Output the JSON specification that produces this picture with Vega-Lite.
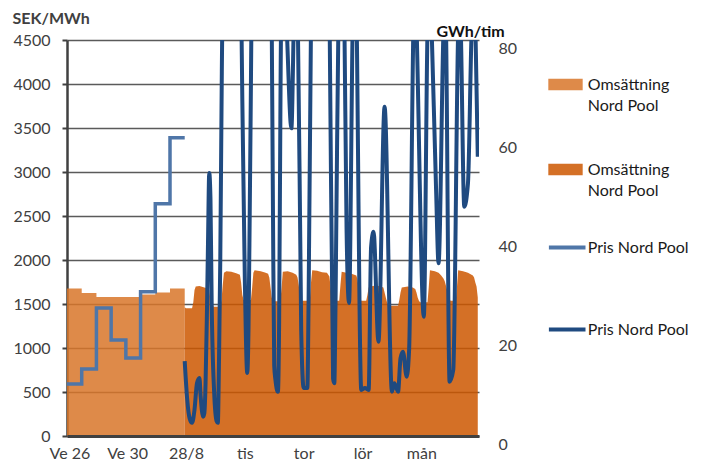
{
  "$schema": "https://vega.github.io/schema/vega-lite/v6.json",
  "width": 412,
  "height": 396,
  "autosize": {"type": "none"},
  "padding": {"left": 67, "top": 40, "right": 225, "bottom": 35},
  "background": "white",
  "config": {
    "font": "Lato",
    "view": {"stroke": null},
    "axis": {"labelFont": "Lato", "titleFont": "Lato"},
    "legend": {"labelFont": "Lato"}
  },
  "datasets": {
    "vecka": [
      {"vecka": 26, "t": -96, "t2": -84, "pris": 590, "vol": 29.8},
      {"vecka": 27, "t": -84, "t2": -72, "pris": 760, "vol": 28.9},
      {"vecka": 28, "t": -72, "t2": -60, "pris": 1455, "vol": 28.1},
      {"vecka": 29, "t": -60, "t2": -48, "pris": 1090, "vol": 28.1},
      {"vecka": 30, "t": -48, "t2": -36, "pris": 886, "vol": 28.1},
      {"vecka": 31, "t": -36, "t2": -24, "pris": 1640, "vol": 28.6},
      {"vecka": 32, "t": -24, "t2": -12, "pris": 2640, "vol": 29.0},
      {"vecka": 33, "t": -12, "t2": 0, "pris": 3390, "vol": 29.8}
    ],
    "timpris": [
      {"t":0,"pris":850},{"t":2,"pris":420},{"t":4,"pris":200},{"t":6,"pris":150},{"t":8,"pris":300},{"t":10,"pris":600},{"t":12,"pris":660},{"t":13,"pris":450},{"t":15,"pris":220},{"t":16,"pris":260},{"t":17,"pris":600},{"t":18,"pris":1300},{"t":19,"pris":2200},{"t":20,"pris":2990},{"t":21,"pris":2700},{"t":22,"pris":1500},{"t":24,"pris":500},{"t":26,"pris":170},{"t":27,"pris":150},{"t":28,"pris":900},{"t":29,"pris":2000},{"t":30,"pris":3700},{"t":31,"pris":5200},{"t":35,"pris":7000},{"t":40,"pris":7500},{"t":44,"pris":6500},{"t":46,"pris":5000},{"t":47,"pris":3800},{"t":49,"pris":1800},{"t":51,"pris":716},{"t":52,"pris":1200},{"t":53,"pris":2500},{"t":54,"pris":4000},{"t":55,"pris":5500},{"t":60,"pris":7000},{"t":66,"pris":7000},{"t":70,"pris":6000},{"t":71,"pris":4600},{"t":72,"pris":2500},{"t":73,"pris":800},{"t":74,"pris":636},{"t":76,"pris":503},{"t":77,"pris":1300},{"t":78,"pris":3600},{"t":79,"pris":5400},{"t":80,"pris":5500},{"t":82,"pris":5000},{"t":83,"pris":4700},{"t":87,"pris":3496},{"t":89,"pris":4700},{"t":90,"pris":5200},{"t":92,"pris":5000},{"t":95,"pris":1200},{"t":97,"pris":545},{"t":100,"pris":545},{"t":101,"pris":1500},{"t":103,"pris":4700},{"t":106,"pris":6500},{"t":112,"pris":7000},{"t":116,"pris":6000},{"t":118,"pris":5000},{"t":121,"pris":650},{"t":122,"pris":600},{"t":123,"pris":1500},{"t":126,"pris":5500},{"t":128,"pris":6000},{"t":130,"pris":5000},{"t":132,"pris":2340},{"t":134,"pris":1511},{"t":137,"pris":4700},{"t":139,"pris":6000},{"t":140,"pris":5000},{"t":144,"pris":523},{"t":147,"pris":545},{"t":150,"pris":523},{"t":152,"pris":2150},{"t":154,"pris":2322},{"t":158,"pris":1072},{"t":163,"pris":3742},{"t":169,"pris":504},{"t":171,"pris":600},{"t":174,"pris":504},{"t":176,"pris":886},{"t":178,"pris":958},{"t":181,"pris":674},{"t":183,"pris":977},{"t":187,"pris":5000},{"t":188,"pris":5200},{"t":189,"pris":4700},{"t":195,"pris":1356},{"t":198,"pris":4600},{"t":200,"pris":5200},{"t":201,"pris":4800},{"t":205,"pris":2800},{"t":207,"pris":1962},{"t":211,"pris":4600},{"t":212,"pris":5000},{"t":213,"pris":4700},{"t":216,"pris":617},{"t":219,"pris":750},{"t":223,"pris":4600},{"t":224,"pris":5000},{"t":225,"pris":4700},{"t":228,"pris":2606},{"t":231,"pris":2870},{"t":234,"pris":4600},{"t":236,"pris":5000},{"t":237,"pris":4700},{"t":239,"pris":3174}
    ],
    "timvol": [
      {"t":0,"vol":26.0},{"t":1,"vol":25.8},{"t":6,"vol":25.8},{"t":7,"vol":27.0},{"t":8,"vol":29.5},{"t":9,"vol":30.2},{"t":12,"vol":30.3},{"t":16,"vol":30.0},{"t":19,"vol":29.8},{"t":20,"vol":29.5},{"t":21,"vol":27.5},{"t":22,"vol":26.3},
      {"t":24,"vol":26.1},{"t":29,"vol":26.1},{"t":30,"vol":27.5},{"t":31,"vol":30.5},{"t":32,"vol":33.0},{"t":34,"vol":33.3},{"t":38,"vol":33.2},{"t":42,"vol":32.9},{"t":45,"vol":32.6},{"t":46,"vol":31.0},{"t":47,"vol":28.5},
      {"t":48,"vol":27.5},{"t":54,"vol":27.5},{"t":55,"vol":30.0},{"t":56,"vol":33.0},{"t":57,"vol":33.5},{"t":62,"vol":33.3},{"t":66,"vol":33.0},{"t":68,"vol":32.8},{"t":69,"vol":32.0},{"t":70,"vol":30.0},{"t":71,"vol":28.0},
      {"t":72,"vol":27.2},{"t":78,"vol":27.2},{"t":79,"vol":30.0},{"t":80,"vol":33.2},{"t":84,"vol":33.3},{"t":88,"vol":33.0},{"t":91,"vol":32.6},{"t":92,"vol":32.0},{"t":93,"vol":30.5},{"t":94,"vol":28.5},{"t":95,"vol":27.5},
      {"t":96,"vol":27.3},{"t":102,"vol":27.3},{"t":103,"vol":31.0},{"t":104,"vol":33.5},{"t":108,"vol":33.4},{"t":112,"vol":33.1},{"t":116,"vol":33.0},{"t":118,"vol":32.2},{"t":119,"vol":30.0},{"t":120,"vol":27.8},
      {"t":121,"vol":27.3},{"t":126,"vol":27.3},{"t":127,"vol":30.5},{"t":128,"vol":33.2},{"t":132,"vol":33.0},{"t":136,"vol":32.8},{"t":140,"vol":32.4},{"t":141,"vol":31.5},{"t":142,"vol":29.5},{"t":143,"vol":28.0},
      {"t":144,"vol":27.3},{"t":148,"vol":27.3},{"t":149,"vol":28.5},{"t":150,"vol":30.0},{"t":151,"vol":30.2},{"t":156,"vol":30.4},{"t":160,"vol":30.2},{"t":162,"vol":30.0},{"t":163,"vol":29.0},{"t":164,"vol":28.0},{"t":165,"vol":27.0},{"t":166,"vol":26.4},
      {"t":168,"vol":26.3},{"t":174,"vol":26.3},{"t":175,"vol":27.5},{"t":176,"vol":29.0},{"t":177,"vol":30.0},{"t":182,"vol":30.2},{"t":186,"vol":30.0},{"t":188,"vol":29.7},{"t":189,"vol":29.0},{"t":190,"vol":28.0},{"t":191,"vol":27.3},
      {"t":192,"vol":27.0},{"t":198,"vol":27.0},{"t":199,"vol":30.0},{"t":200,"vol":33.5},{"t":204,"vol":33.3},{"t":207,"vol":33.0},{"t":209,"vol":32.5},{"t":211,"vol":31.8},{"t":212,"vol":31.3},{"t":214,"vol":29.5},{"t":215,"vol":28.0},
      {"t":216,"vol":27.5},{"t":217,"vol":27.3},{"t":221,"vol":27.3},{"t":222,"vol":30.0},{"t":223,"vol":33.5},{"t":227,"vol":33.3},{"t":231,"vol":33.0},{"t":235,"vol":32.4},{"t":236,"vol":32.0},{"t":237,"vol":31.0},{"t":238,"vol":30.2},{"t":239,"vol":28.0}
    ]
  },
  "encoding": {
    "x": {
      "field": "t",
      "type": "quantitative",
      "title": null,
      "scale": {"domain": [-96, 240], "nice": false, "zero": false},
      "axis": {
        "values": [-94, -47, 1, 49, 97, 145, 193],
        "labelExpr": "datum.value == -94 ? 'Ve 26' : datum.value == -47 ? 'Ve 30' : datum.value == 1 ? '28/8' : datum.value == 49 ? 'tis' : datum.value == 97 ? 'tor' : datum.value == 145 ? 'lör' : 'mån'",
        "grid": false,
        "ticks": false,
        "domain": true,
        "domainColor": "#404040",
        "domainWidth": 3,
        "labelFontSize": 16,
        "labelColor": "#404040",
        "labelPadding": 9,
        "labelFlush": false,
        "labelOverlap": false,
        "zindex": 1
      }
    }
  },
  "layer": [
    {
      "layer": [
        {
          "data": {"name": "vecka"},
          "transform": [{"fold": ["t", "t2"], "as": ["kant", "t"]}],
          "mark": {"type": "area", "fillOpacity": 0.85, "interpolate": "linear"},
          "encoding": {
            "y": {
              "field": "vol",
              "type": "quantitative",
              "stack": null,
              "scale": {"domain": [0, 80], "nice": false},
              "axis": {
                "orient": "right",
                "values": [0, 20, 40, 60, 80],
                "grid": false,
                "domain": false,
                "ticks": false,
                "labelPadding": 19,
                "labelOffset": 8,
                "labelFontSize": 16,
                "labelColor": "#404040",
                "title": "GWh/tim",
                "titleAngle": 0,
                "titleX": -43,
                "titleY": -4,
                "titleAlign": "left",
                "titleBaseline": "alphabetic",
                "titleFontWeight": "bold",
                "titleFontSize": 16,
                "titleColor": "#111111"
              }
            },
            "fill": {
              "datum": "Omsättning vecka",
              "type": "nominal",
              "scale": {"domain": ["Omsättning vecka", "Omsättning timme"], "range": ["#D87529", "#CC5700"]},
              "legend": {
                "orient": "none",
                "legendX": 487,
                "legendY": 33,
                "title": null,
                "padding": 0,
                "symbolType": "M-1.5,-0.5H1.5V0.5H-1.5Z",
                "symbolSize": 525,
                "symbolStrokeWidth": 0,
                "symbolOpacity": 0.85,
                "labelOffset": 10.8,
                "rowPadding": 44,
                "labelExpr": "['Omsättning', 'Nord Pool']",
                "labelFontSize": 16,
                "labelColor": "#1a1a1a",
                "labelBaseline": "middle",
                "labelLimit": 200,
                "encode": {"labels": {"update": {"lineHeight": {"value": 21}}}}
              }
            }
          }
        },
        {
          "data": {"name": "timvol"},
          "mark": {"type": "area", "fillOpacity": 0.85, "interpolate": "linear"},
          "encoding": {
            "y": {"field": "vol", "type": "quantitative", "stack": null},
            "fill": {"datum": "Omsättning timme", "type": "nominal"}
          }
        }
      ]
    },
    {
      "layer": [
        {
          "data": {"name": "vecka"},
          "transform": [{"fold": ["t", "t2"], "as": ["kant", "t"]}],
          "mark": {"type": "line", "strokeWidth": 3.5, "strokeJoin": "miter"},
          "encoding": {
            "y": {
              "field": "pris",
              "type": "quantitative",
              "scale": {"domain": [0, 4500], "nice": false},
              "axis": {
                "orient": "left",
                "values": [0, 500, 1000, 1500, 2000, 2500, 3000, 3500, 4000, 4500],
                "format": "d",
                "grid": true,
                "gridColor": "#5a5a5a",
                "gridWidth": 1.3,
                "domain": true,
                "domainColor": "#404040",
                "domainWidth": 2.5,
                "ticks": true,
                "tickColor": "#404040",
                "tickWidth": 2,
                "tickSize": 5,
                "labelPadding": 12,
                "labelFontSize": 16,
                "labelColor": "#404040",
                "title": "SEK/MWh",
                "titleAngle": 0,
                "titleX": -55,
                "titleY": -17,
                "titleAlign": "left",
                "titleBaseline": "alphabetic",
                "titleFontWeight": "bold",
                "titleFontSize": 16,
                "titleColor": "#404040"
              }
            },
            "stroke": {
              "datum": "Pris vecka",
              "type": "nominal",
              "scale": {"domain": ["Pris vecka", "Pris timme"], "range": ["#4F76A8", "#1F4A80"]},
              "legend": {
                "orient": "none",
                "legendX": 479.7,
                "legendY": 187,
                "title": null,
                "padding": 0,
                "symbolType": "stroke",
                "symbolSize": 1340,
                "symbolStrokeWidth": 4,
                "labelOffset": 0,
                "rowPadding": 53,
                "labelExpr": "'Pris Nord Pool'",
                "labelFontSize": 16,
                "labelColor": "#1a1a1a",
                "labelLimit": 200
              }
            }
          }
        },
        {
          "data": {"name": "timpris"},
          "mark": {"type": "line", "strokeWidth": 4, "clip": true, "interpolate": "monotone", "strokeJoin": "round"},
          "encoding": {
            "y": {"field": "pris", "type": "quantitative"},
            "stroke": {"datum": "Pris timme", "type": "nominal"}
          }
        }
      ]
    }
  ],
  "resolve": {"scale": {"y": "independent"}}
}
